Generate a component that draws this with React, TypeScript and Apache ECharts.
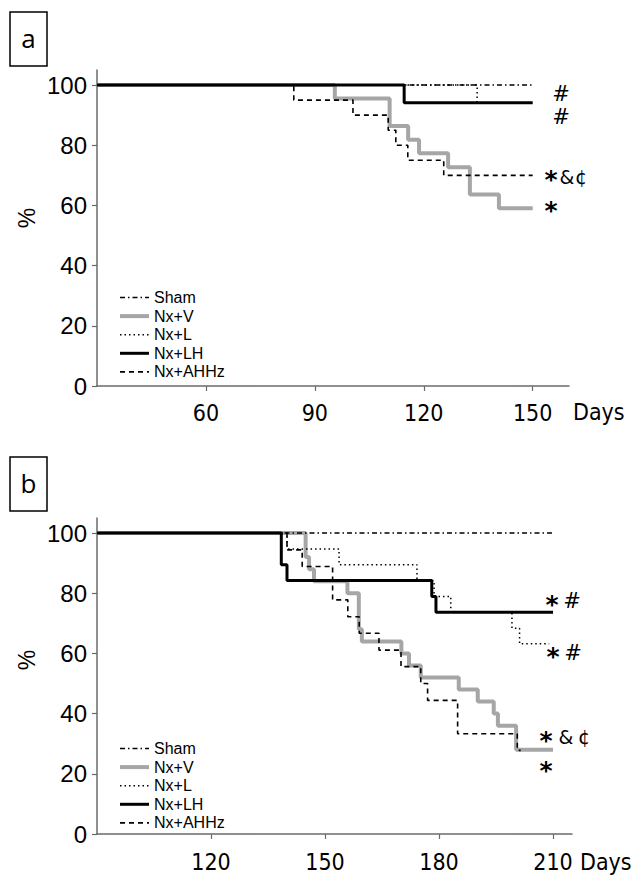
import React, { useEffect, useRef } from "react";
import * as echarts from "echarts";

// ---------- data ----------
const seriesNames = ["Sham", "Nx+V", "Nx+L", "Nx+LH", "Nx+AHHz"];

// panel a (days 30-150)
const aShamDays = [30, 150];
const aShamPct = [100, 100];
const aVDays = [30, 95.5, 110.6, 115.7, 118.7, 126.7, 132.7, 140.7, 150];
const aVPct = [100, 95.5, 86.4, 81.8, 77.3, 72.7, 63.6, 59.1, 59.1];
const aLDays = [30, 134.7, 150];
const aLPct = [100, 94.1, 94.1];
const aLHDays = [30, 114.6, 150];
const aLHPct = [100, 94.1, 94.1];
const aAHHzDays = [30, 84.2, 100.5, 110.2, 112.3, 115.6, 125.5, 150];
const aAHHzPct = [100, 95, 90, 85, 80, 75, 70, 70];

// panel b (days 90-210)
const bShamDays = [90, 210];
const bShamPct = [100, 100];
const bVDays = [90, 144.9, 145.8, 147.1, 155.9, 158.9, 159.7, 170.1, 172.1, 175.2, 185.2, 190.2, 194.4, 195.5, 200.3, 210];
const bVPct = [100, 92, 88, 84, 80, 68, 64, 60, 56, 52, 48, 44, 40, 36, 28, 28];
const bLDays = [90, 140, 153.7, 174.2, 178.7, 183.1, 199.2, 201.2, 209];
const bLPct = [100, 94.7, 89.5, 84.2, 78.9, 73.7, 68.4, 63.2, 63.2];
const bLHDays = [90, 138.5, 140, 178.1, 179.2, 210];
const bLHPct = [100, 89.5, 84.2, 78.9, 73.7, 73.7];
const bAHHzDays = [90, 140, 144, 152, 156, 159, 164.2, 170, 175.2, 177, 184.9, 200.6, 201.5];
const bAHHzPct = [100, 94.4, 88.9, 77.8, 72.2, 66.7, 61.1, 55.6, 50, 44.4, 33.3, 27.8, 27.8];

const aTicks = [60, 90, 120, 150];
const bTicks = [120, 150, 180, 210];
const yTicks = [0, 20, 40, 60, 80, 100];

const zip = (xs: number[], ys: number[]) => xs.map((x, i) => [x, ys[i]]);

const lineStyles: Record<string, any> = {
  Sham: { color: "#000", width: 1.5, type: [5, 3, 1.5, 3] },
  "Nx+V": { color: "#a6a6a6", width: 4, type: "solid" },
  "Nx+L": { color: "#000", width: 1.5, type: [1.5, 3] },
  "Nx+LH": { color: "#000", width: 3, type: "solid" },
  "Nx+AHHz": { color: "#000", width: 1.6, type: [5, 4] },
};

const AXIS_COLOR = "#6b6b6b";
const X_FONT = "'DejaVu Sans Condensed', 'DejaVu Sans', sans-serif";

export default function App() {
  const ref = useRef<HTMLDivElement>(null);

  useEffect(() => {
    if (!ref.current) return;
    const chart = echarts.init(ref.current, undefined, { renderer: "svg" });

    const mkX = (grid: number, min: number, max: number, ticks: number[], margin: number) => ({
      type: "value",
      gridIndex: grid,
      min,
      max,
      axisLine: { show: true, onZero: false, lineStyle: { color: AXIS_COLOR, width: 1.5 } },
      axisTick: { show: true, length: 5, customValues: ticks, lineStyle: { color: AXIS_COLOR, width: 1.2 } },
      axisLabel: { customValues: ticks, fontSize: 23, fontFamily: X_FONT, color: "#000", margin },
      splitLine: { show: false },
    });
    const mkY = (grid: number) => ({
      type: "value",
      gridIndex: grid,
      min: 0,
      max: 105,
      axisLine: { show: true, onZero: false, lineStyle: { color: AXIS_COLOR, width: 1.5 } },
      axisTick: { show: true, length: 5, customValues: yTicks, lineStyle: { color: AXIS_COLOR, width: 1.2 } },
      axisLabel: { customValues: yTicks, fontSize: 24, fontFamily: "'Liberation Sans', Arial, sans-serif", color: "#000", margin: 10 },
      splitLine: { show: false },
    });

    const order = ["Nx+V", "Nx+AHHz", "Nx+L", "Sham", "Nx+LH"];
    const dataA: Record<string, number[][]> = {
      Sham: zip(aShamDays, aShamPct),
      "Nx+V": zip(aVDays, aVPct),
      "Nx+L": zip(aLDays, aLPct),
      "Nx+LH": zip(aLHDays, aLHPct),
      "Nx+AHHz": zip(aAHHzDays, aAHHzPct),
    };
    const dataB: Record<string, number[][]> = {
      Sham: zip(bShamDays, bShamPct),
      "Nx+V": zip(bVDays, bVPct),
      "Nx+L": zip(bLDays, bLPct),
      "Nx+LH": zip(bLHDays, bLHPct),
      "Nx+AHHz": zip(bAHHzDays, bAHHzPct),
    };
    const mkSeries = (idx: number, data: Record<string, number[][]>) =>
      order.map((name) => ({
        type: "line",
        name,
        xAxisIndex: idx,
        yAxisIndex: idx,
        step: "end",
        symbol: "none",
        showSymbol: false,
        silent: true,
        lineStyle: { ...lineStyles[name], cap: "butt" },
        itemStyle: { color: lineStyles[name].color },
        data: data[name],
      }));

    const mkLegend = (top: number) => ({
      data: seriesNames.map((name) => ({
        name,
        lineStyle: { width: lineStyles[name].width, type: lineStyles[name].type, color: lineStyles[name].color },
      })),
      orient: "vertical",
      left: 118,
      top,
      padding: 0,
      itemWidth: 29,
      itemHeight: 14,
      itemGap: 2.6,
      selectedMode: false,
      itemStyle: { opacity: 0, borderWidth: 0 },
      textStyle: { fontSize: 16, fontFamily: "'Liberation Sans', Arial, sans-serif", color: "#000", padding: [0, 0, 0, 0] },
    });

    const txt = (text: string, x: number, y: number, extra: any = {}) => ({
      type: "text",
      x,
      y,
      silent: true,
      style: {
        text,
        fill: "#000",
        fontSize: 19,
        fontFamily: "'DejaVu Sans', sans-serif",
        align: "center",
        verticalAlign: "middle",
        textAlign: "center",
        textVerticalAlign: "middle",
        ...extra,
      },
    });
    const star = (x: number, y: number) =>
      txt("*", x, y + 3, { fontSize: 25, fontWeight: "bold", fontFamily: "'DejaVu Sans', sans-serif" });
    const hash = (x: number, y: number) => txt("#", x, y, { fontSize: 21, fontStyle: "italic" });

    const option: any = {
      animation: false,
      backgroundColor: "#fff",
      grid: [
        { left: 97, top: 70, width: 472, height: 316, outerBoundsMode: "none" },
        { left: 97, top: 518, width: 475, height: 316, outerBoundsMode: "none" },
      ],
      xAxis: [mkX(0, 30, 160, aTicks, 15), mkX(1, 90, 215, bTicks, 16)],
      yAxis: [mkY(0), mkY(1)],
      legend: [mkLegend(289.5), mkLegend(740.5)],
      series: [...mkSeries(0, dataA), ...mkSeries(1, dataB)],
      graphic: [
        { type: "rect", shape: { x: 10, y: 12, width: 37, height: 54 }, style: { fill: "none", stroke: "#000", lineWidth: 1.5 } },
        txt("a", 28.5, 38, { fontSize: 26, fontFamily: "'Open Sans', sans-serif" }),
        { type: "rect", shape: { x: 10, y: 457, width: 37, height: 54 }, style: { fill: "none", stroke: "#000", lineWidth: 1.5 } },
        txt("b", 28.5, 483, { fontSize: 26, fontFamily: "'Open Sans', sans-serif" }),
        { ...txt("%", 27, 218, { fontSize: 23, fontFamily: "'Liberation Sans', Arial, sans-serif" }), rotation: Math.PI / 2 },
        { ...txt("%", 27, 660, { fontSize: 23, fontFamily: "'Liberation Sans', Arial, sans-serif" }), rotation: Math.PI / 2 },
        txt("Days", 573, 412, { fontSize: 23, fontFamily: X_FONT, align: "left", textAlign: "left" }),
        txt("Days", 580, 862, { fontSize: 23, fontFamily: X_FONT, align: "left", textAlign: "left" }),
        // panel a annotations
        hash(561, 93.5),
        hash(561, 116.5),
        star(551, 176.5),
        txt("&", 567, 176.5),
        txt("¢", 581, 176.5),
        star(551, 207.5),
        // panel b annotations
        star(552, 601),
        hash(572, 601),
        star(553, 653),
        hash(573, 653),
        star(546, 737),
        txt("&", 566, 737),
        txt("¢", 584, 737),
        star(546, 767),
      ],
    };

    chart.setOption(option);
    return () => chart.dispose();
  }, []);

  return (
    <div
      ref={ref}
      style={{ position: "absolute", left: 0, top: 0, width: 642, height: 881, background: "#fff" }}
    />
  );
}
